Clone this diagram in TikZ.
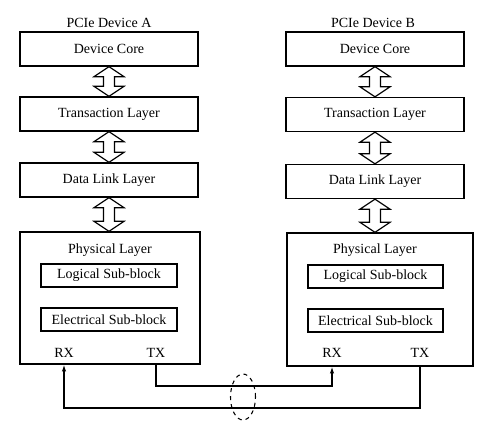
\documentclass[tikz,border=0pt]{standalone}
\usepackage{fontspec}
\setmainfont{Liberation Serif}
\usetikzlibrary{arrows.meta,calc,shapes.geometric}
\tikzset{
  txt/.style={font=\fontsize{10.5pt}{12pt}\selectfont},
  layer/.style={draw, line width=1pt, minimum width=133.5pt, minimum height=25.5pt, inner sep=0pt, txt},
  phys/.style={draw, line width=1pt, inner sep=0pt},
  sub/.style={draw, line width=1pt, minimum height=17.25pt, inner sep=0pt, txt},
  lbl/.style={inner sep=0pt, txt},
  arr/.style={draw, line width=0.9pt, fill=white, line join=miter},
  wire/.style={line width=0.85pt, -{Latex[length=5pt,width=3.2pt]}},
}
\newcommand\hollowarr[2]{%
  \path[arr] let \p1=#1, \p2=#2 in
   (\x1,\y1) -- (\x1+11.25pt,\y1-7.5pt) -- (\x1+4.125pt,\y1-7.5pt)
   -- (\x1+4.125pt,\y2+7.5pt) -- (\x1+11.25pt,\y2+7.5pt) -- (\x1,\y2)
   -- (\x1-11.25pt,\y2+7.5pt) -- (\x1-4.125pt,\y2+7.5pt)
   -- (\x1-4.125pt,\y1-7.5pt) -- (\x1-11.25pt,\y1-7.5pt) -- cycle;}
\begin{document}
\begin{tikzpicture}[x=0.75pt,y=-0.75pt]
\useasboundingbox[fill=white] (0,0) rectangle (481,438);
% Device A
\node[lbl] (titleA) at (109,23) {PCIe Device A};
\node[layer] (dcA) at (109,49) {Device Core};
\node[layer] (tlA) at (109,114) {Transaction Layer};
\node[layer] (dlA) at (109,180) {Data Link Layer};
\node[phys, minimum width=135pt, minimum height=99pt] (plA) at (110,298) {};
\node[lbl] (plAt) at (110,250) {Physical Layer};
\node[sub, minimum width=102pt] (lsA) at (109,275.5) {Logical Sub-block};
\node[sub, minimum width=102pt] (esA) at (109,319.5) {Electrical Sub-block};
\node[lbl] (rxA) at (64,353) {RX};
\node[lbl] (txA) at (156,353) {TX};
% Device B
\node[lbl] (titleB) at (373,23) {PCIe Device B};
\node[layer] (dcB) at (375,49) {Device Core};
\node[layer] (tlB) at (375,114.5) {Transaction Layer};
\node[layer] (dlB) at (375,181.5) {Data Link Layer};
\node[phys, minimum width=139.5pt, minimum height=99.75pt] (plB) at (380,299.5) {};
\node[lbl] (plBt) at (375,250) {Physical Layer};
\node[sub, minimum width=101.25pt] (lsB) at (375.5,276.5) {Logical Sub-block};
\node[sub, minimum width=101.25pt] (esB) at (375.5,320.5) {Electrical Sub-block};
\node[lbl] (rxB) at (332,353) {RX};
\node[lbl] (txB) at (420,353) {TX};
% hollow double arrows
\hollowarr{(dcA.south)}{(tlA.north)}
\hollowarr{(tlA.south)}{(dlA.north)}
\hollowarr{(dlA.south)}{(dlA.south |- plA.north)}
\hollowarr{(dcB.south)}{(tlB.north)}
\hollowarr{(tlB.south)}{(dlB.north)}
\hollowarr{(dlB.south)}{(dlB.south |- plB.north)}
% links
\coordinate (yA) at (0,386);
\coordinate (yB) at (0,408);
\draw[wire] (txA |- plA.south) -- (txA |- yA) -- (rxB |- yA) -- (rxB |- plB.south);
\draw[wire] (txB |- plB.south) -- (txB |- yB) -- (rxA |- yB) -- (rxA |- plA.south);
\node[draw, dashed, ellipse, line width=0.8pt, minimum width=18.75pt, minimum height=34.5pt, inner sep=0pt] (lane) at (243,397) {};
\end{tikzpicture}
\end{document}
